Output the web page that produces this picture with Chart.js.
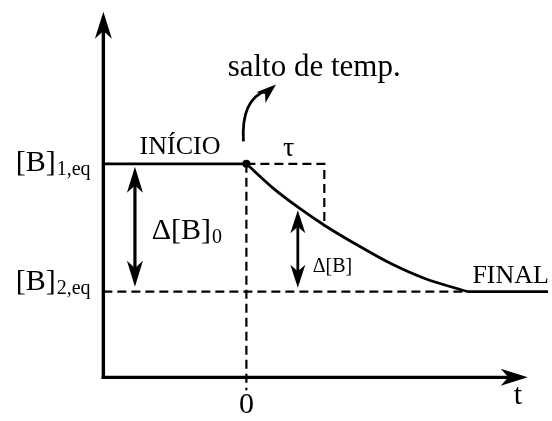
<!DOCTYPE html>
<html>
<head>
<meta charset="utf-8">
<script src="https://cdn.jsdelivr.net/npm/chart.js@4/dist/chart.umd.min.js"></script>
<style>
  html, body { margin: 0; padding: 0; background: #fff; }
  canvas { display: block; }
</style>
</head>
<body>
<canvas id="myChart" width="552" height="421"></canvas>
<script>
// relaxation after a temperature jump: [B] falls from the old to the new equilibrium
const relaxT = [0, 0.35, 0.68, 1.02, 1.44, 1.86, 2.29, 2.84];
const relaxB = [1.0, 0.806, 0.653, 0.512, 0.359, 0.218, 0.103, 0.0];

const B1eq = 1;     // [B]1,eq
const B2eq = 0;     // [B]2,eq
const tau = 1.0;
const tauB = 0.51;  // [B] reached at t = tau
const tEnd = 2.84;  // curve meets the new level

// axis frame (data units)
const xMin = -3.11, xMax = 3.87, yMin = -0.98, yMax = 2.25;
const axisX = -1.835, axisY = -0.67;
const axisTopY = 2.19, axisRightX = 3.61;

// double arrows
const dB0x = -1.43;
const dBx = 0.66, dBtop = 0.653;

// text labels: [text, subscript, x, y, size, subSize, align]
const labels = [
  ['[B]', '1,eq', -2.96, 0.946, 30, 20, 'left'],
  ['[B]', '2,eq', -2.96, 0.011, 30, 20, 'left'],
  ['INÍCIO', '', -1.37, 1.077, 26, 0, 'left'],
  ['salto de temp.', '', -0.24, 1.69, 31, 0, 'left'],
  ['τ', '', 0.47, 1.061, 28, 0, 'left'],
  ['Δ[B]', '0', -1.215, 0.41, 30, 20, 'left'],
  ['Δ[B]', '', 0.85, 0.157, 20, 0, 'left'],
  ['FINAL', '', 2.90, 0.065, 26, 0, 'left'],
  ['0', '', 0, -0.946, 30, 0, 'center'],
  ['t', '', 3.43, -0.877, 30, 0, 'left']
];

// curved "jump" arrow: start, control, end
const jumpArrow = [[-0.038, 1.176], [-0.07, 1.50], [0.38, 1.62]];

const curve = relaxT.map((t, i) => ({ x: t, y: relaxB[i] }));
const dash = [9, 5];

function seg(data, opts) {
  return Object.assign({
    data: data,
    borderColor: '#000',
    borderWidth: 2.2,
    pointRadius: 0,
    fill: false
  }, opts || {});
}

function head(ctx, tx, ty, ang, len, w) {
  ctx.save();
  ctx.translate(tx, ty);
  ctx.rotate(ang);
  ctx.beginPath();
  ctx.moveTo(0, 0);
  ctx.lineTo(-len, w);
  ctx.lineTo(-len * 0.72, 0);
  ctx.lineTo(-len, -w);
  ctx.closePath();
  ctx.fill();
  ctx.restore();
}

function arrowLine(ctx, x1, y1, x2, y2, lw, len, w, both) {
  const ang = Math.atan2(y2 - y1, x2 - x1);
  ctx.lineWidth = lw;
  ctx.beginPath();
  ctx.moveTo(x1 + (both ? Math.cos(ang) * len * 0.7 : 0), y1 + (both ? Math.sin(ang) * len * 0.7 : 0));
  ctx.lineTo(x2 - Math.cos(ang) * len * 0.7, y2 - Math.sin(ang) * len * 0.7);
  ctx.stroke();
  head(ctx, x2, y2, ang, len, w);
  if (both) head(ctx, x1, y1, ang + Math.PI, len, w);
}

const diagram = {
  id: 'diagram',
  afterDatasetsDraw(chart) {
    const ctx = chart.ctx;
    const sx = chart.scales.x, sy = chart.scales.y;
    const px = v => sx.getPixelForValue(v);
    const py = v => sy.getPixelForValue(v);
    ctx.save();
    ctx.strokeStyle = '#000';
    ctx.fillStyle = '#000';
    ctx.lineCap = 'butt';

    // axes
    arrowLine(ctx, px(axisX), py(axisY) + 1.7, px(axisX), py(axisTopY), 3.4, 27, 8.5, false);
    arrowLine(ctx, px(axisX) - 1.7, py(axisY), px(axisRightX), py(axisY), 3.4, 27, 8.5, false);

    // Δ[B]0 and Δ[B]
    arrowLine(ctx, px(dB0x), py(B1eq) + 3, px(dB0x), py(B2eq) - 5, 3.2, 26, 8, true);
    arrowLine(ctx, px(dBx), py(dBtop) + 2, px(dBx), py(B2eq) - 4, 2.8, 23, 7.5, true);

    // temperature jump arrow
    const [a, c, b] = jumpArrow.map(p => [px(p[0]), py(p[1])]);
    ctx.lineWidth = 2.8;
    ctx.beginPath();
    ctx.moveTo(a[0], a[1]);
    ctx.quadraticCurveTo(c[0], c[1], b[0] - 10, b[1] + 6);
    ctx.stroke();
    head(ctx, b[0], b[1], Math.atan2(b[1] - c[1], b[0] - c[0]) - 0.3, 20, 7);

    // text
    ctx.textBaseline = 'alphabetic';
    labels.forEach(([txt, sub, x, y, size, subSize, align]) => {
      ctx.font = size + 'px "Liberation Serif", "DejaVu Serif", serif';
      ctx.textAlign = align;
      const lx = px(x), ly = py(y);
      ctx.fillText(txt, lx, ly);
      if (sub) {
        const w = ctx.measureText(txt).width;
        ctx.font = subSize + 'px "Liberation Serif", "DejaVu Serif", serif';
        ctx.textAlign = 'left';
        ctx.fillText(sub, lx + w + 1, ly + 4);
      }
    });
    ctx.restore();
  }
};

new Chart(document.getElementById('myChart'), {
  type: 'line',
  data: {
    datasets: [
      // before the jump
      seg([{ x: axisX, y: B1eq }, { x: 0, y: B1eq }], { borderWidth: 2.8 }),
      // relaxation
      seg(curve, { borderWidth: 2.8, cubicInterpolationMode: 'monotone' }),
      // new equilibrium
      seg([{ x: tEnd, y: B2eq }, { x: xMax, y: B2eq }], { borderWidth: 2.8 }),
      seg([{ x: axisX, y: B2eq }, { x: tEnd, y: B2eq }], { borderDash: dash }),
      // tau box
      seg([{ x: 0, y: B1eq }, { x: tau, y: B1eq }, { x: tau, y: tauB }], { borderDash: dash }),
      // t = 0
      seg([{ x: 0, y: B1eq }, { x: 0, y: -0.77 }], { borderDash: dash }),
      // jump point
      {
        data: [{ x: 0, y: B1eq }],
        showLine: false,
        pointRadius: 4,
        pointBackgroundColor: '#000',
        pointBorderWidth: 0
      }
    ]
  },
  options: {
    responsive: false,
    animation: false,
    events: [],
    layout: { padding: 0 },
    plugins: {
      legend: { display: false },
      tooltip: { enabled: false }
    },
    scales: {
      x: { type: 'linear', display: false, min: xMin, max: xMax },
      y: { type: 'linear', display: false, min: yMin, max: yMax }
    }
  },
  plugins: [diagram]
});
</script>
</body>
</html>
